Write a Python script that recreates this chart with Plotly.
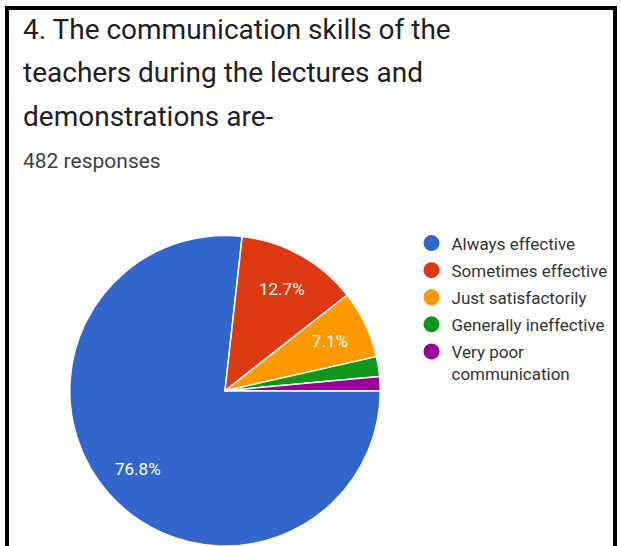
import math
import plotly.graph_objects as go

# ---- data ----
CATEGORIES = ["Always effective", "Sometimes effective", "Just satisfactorily",
              "Generally ineffective", "Very poor<br>communication"]
COUNTS = [370, 61, 34, 10, 7]
COLORS = ["#3366cc", "#dc3912", "#ff9900", "#109618", "#990099"]
TITLE_LINES = ["4. The communication skills of the",
               "teachers during the lectures and",
               "demonstrations are-"]
SUBTITLE = "482 responses"

W, H = 621, 546
FONT = "Roboto, Arial, sans-serif"


def px_x(x):
    return x / W


def px_y(y):
    return min(1.0, max(0.0, 1 - y / H))


# pie geometry (pixels)
CX, CY, R = 225, 391, 155.5

fig = go.Figure()
fig.add_trace(go.Pie(
    labels=CATEGORIES, values=COUNTS, sort=False, direction="clockwise",
    rotation=90, marker=dict(colors=COLORS, line=dict(color="white", width=1.5)),
    textinfo="none", hoverinfo="label+percent", showlegend=False,
    domain=dict(x=[px_x(CX - R), px_x(CX + R)], y=[px_y(CY + R), px_y(CY - R)]),
))

# legend entries (circle symbols)
for cat, col in zip(CATEGORIES, COLORS):
    fig.add_trace(go.Scatter(
        x=[None], y=[None], mode="markers", name=cat, legendgroup=cat,
        marker=dict(symbol="circle", size=16, color=col), showlegend=True,
    ))

annotations = []
# percentage labels placed at 0.75 R along mid-angle of each slice
total = sum(COUNTS)
start = 90.0  # degrees clockwise from 12 o'clock
for cnt in COUNTS:
    frac = cnt / total
    span = frac * 360
    mid = math.radians(start + span / 2)
    start += span
    if frac < 0.05:
        continue
    lx = CX + 0.75 * R * math.sin(mid)
    ly = CY - 0.75 * R * math.cos(mid)
    annotations.append(dict(
        x=px_x(lx), y=px_y(ly), xref="paper", yref="paper",
        text=f"{frac*100:.1f}%", showarrow=False,
        font=dict(family=FONT, size=17, color="white"),
        xanchor="center", yanchor="middle"))

title_centers = [29, 73, 116]
for line, yc in zip(TITLE_LINES, title_centers):
    annotations.append(dict(
        x=px_x(21), y=px_y(yc), xref="paper", yref="paper", text=line,
        showarrow=False, xanchor="left", yanchor="middle",
        font=dict(family=FONT, size=28, color="#202124")))
annotations.append(dict(
    x=px_x(21), y=px_y(161), xref="paper", yref="paper", text=SUBTITLE,
    showarrow=False, xanchor="left", yanchor="middle",
    font=dict(family=FONT, size=21, color="#3c4043")))

shapes = [
    dict(type="line", xref="paper", yref="paper", x0=px_x(7), x1=px_x(7),
         y0=0, y1=px_y(6), line=dict(color="black", width=4)),
    dict(type="line", xref="paper", yref="paper", x0=px_x(5), x1=px_x(617),
         y0=px_y(8), y1=px_y(8), line=dict(color="black", width=4)),
    dict(type="line", xref="paper", yref="paper", x0=px_x(615), x1=px_x(615),
         y0=0, y1=px_y(6), line=dict(color="black", width=4)),
]

fig.update_layout(
    width=W, height=H, margin=dict(l=0, r=0, t=0, b=0),
    paper_bgcolor="white", plot_bgcolor="white",
    xaxis=dict(visible=False), yaxis=dict(visible=False),
    annotations=annotations, shapes=shapes,
    legend=dict(x=px_x(411.5), y=px_y(225.5), xanchor="left", yanchor="top",
                font=dict(family=FONT, size=17, color="#333333"),
                tracegroupgap=2, valign="top", bgcolor="rgba(0,0,0,0)"),
)

fig.write_html("out.html", config={"displayModeBar": False},
               post_script="document.body.style.margin='0';")
